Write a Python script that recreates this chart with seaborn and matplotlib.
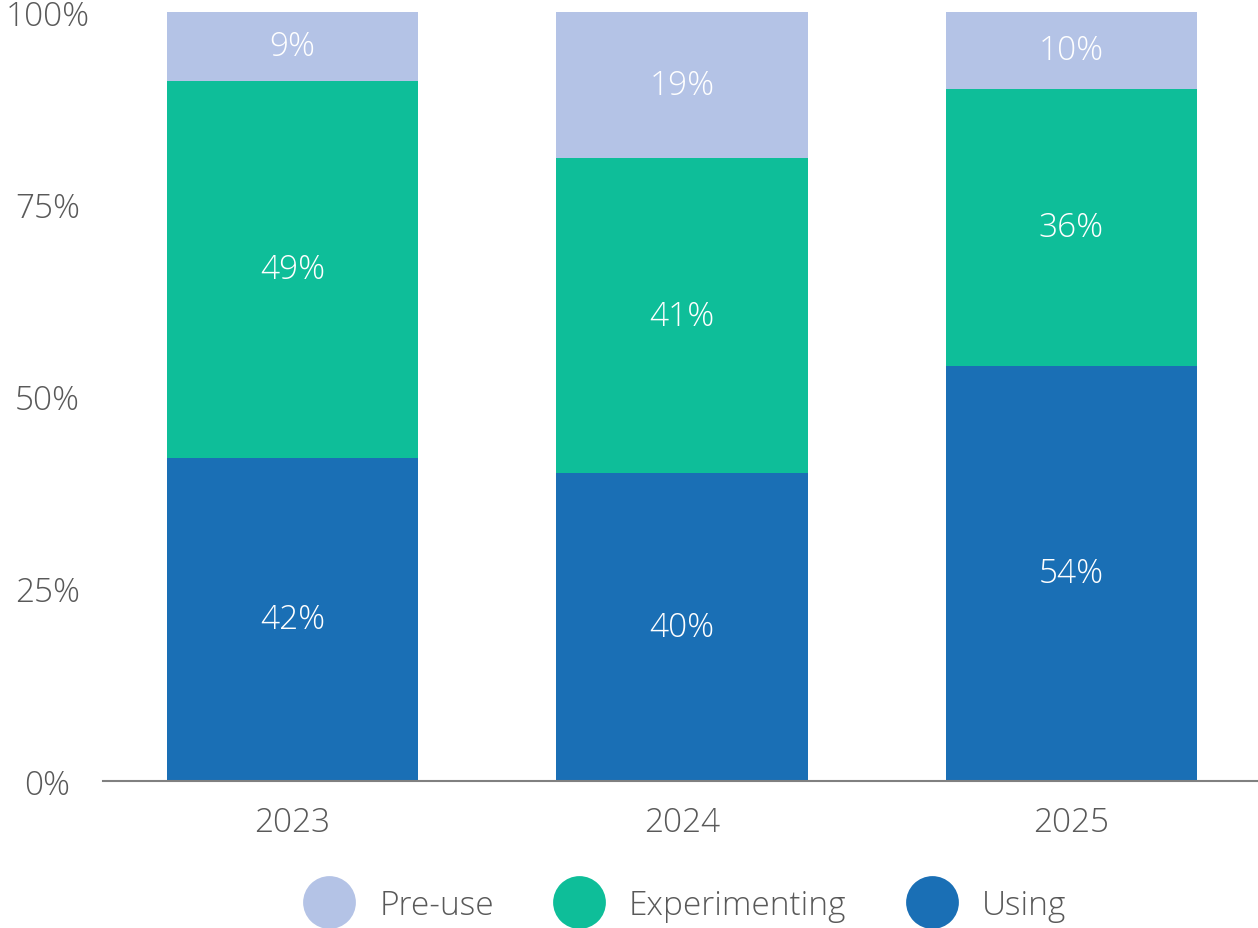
import matplotlib
matplotlib.use("Agg")
import matplotlib.pyplot as plt
from matplotlib.lines import Line2D
import seaborn as sns
import pandas as pd

years = ["2023", "2024", "2025"]
using = [42, 40, 54]
experimenting = [49, 41, 36]
pre_use = [9, 19, 10]

series_names = ["Pre-use", "Experimenting", "Using"]
colors = {"Pre-use": "#B4C3E6", "Experimenting": "#0EBE99", "Using": "#1A6FB5"}
ytick_values = [0, 25, 50, 75, 100]
ytick_labels = ["0%", "25%", "50%", "75%", "100%"]

sns.set_theme(style="white")
plt.rcParams["font.family"] = ["Open Sans", "DejaVu Sans"]
text_color = "#595959"

df = pd.DataFrame({
    "year": years,
    "Using": using,
    "Experimenting": experimenting,
    "Pre-use": pre_use,
})
df["top_exp"] = df["Using"] + df["Experimenting"]
df["top_pre"] = df["top_exp"] + df["Pre-use"]

fig = plt.figure(figsize=(12.58, 9.29), dpi=100)
ax = fig.add_axes([103 / 1258, 1 - 782 / 929, 1 - 103 / 1258, (782 - 13) / 929])

bar_width = 0.645
# Stacked bars: draw cumulative totals from the top segment downwards
sns.barplot(data=df, x="year", y="top_pre", color=colors["Pre-use"], width=bar_width,
            saturation=1, ax=ax, linewidth=0)
sns.barplot(data=df, x="year", y="top_exp", color=colors["Experimenting"], width=bar_width,
            saturation=1, ax=ax, linewidth=0)
sns.barplot(data=df, x="year", y="Using", color=colors["Using"], width=bar_width,
            saturation=1, ax=ax, linewidth=0)

label_font = dict(fontsize=24, fontweight="light", color="white", ha="center", va="center")
for i in range(len(years)):
    u, e, p = using[i], experimenting[i], pre_use[i]
    ax.text(i, u / 2, f"{u}%", **label_font)
    ax.text(i, u + e / 2, f"{e}%", **label_font)
    ax.text(i, u + e + p / 2, f"{p}%", **label_font)

ax.set_xlim(-0.487, 2.479)
ax.set_ylim(0, 100)
ax.set_xlabel("")
ax.set_ylabel("")
ax.set_yticks(ytick_values)
ax.set_yticklabels(ytick_labels)
ax.tick_params(axis="y", length=0, pad=40, labelsize=24, labelcolor=text_color)
ax.tick_params(axis="x", length=0, pad=18, labelsize=24, labelcolor=text_color)
for lab in ax.get_yticklabels():
    lab.set_horizontalalignment("center")
    lab.set_fontweight("light")
for lab in ax.get_xticklabels():
    lab.set_fontweight("light")

for side in ["left", "right", "top"]:
    ax.spines[side].set_visible(False)
ax.spines["bottom"].set_color("#808080")
ax.spines["bottom"].set_linewidth(1.5)

handles = [Line2D([0], [0], marker="o", linestyle="none", markersize=38,
                  markerfacecolor=colors[n], markeredgewidth=0) for n in series_names]
leg = fig.legend(handles, series_names, loc="center", bbox_to_anchor=(681 / 1258, 1 - 906 / 929),
                 ncol=3, frameon=False, fontsize=24, handletextpad=0.5, columnspacing=1.55,
                 labelcolor=text_color)
for t in leg.get_texts():
    t.set_fontweight("light")

fig.savefig("out.png", dpi=100)
